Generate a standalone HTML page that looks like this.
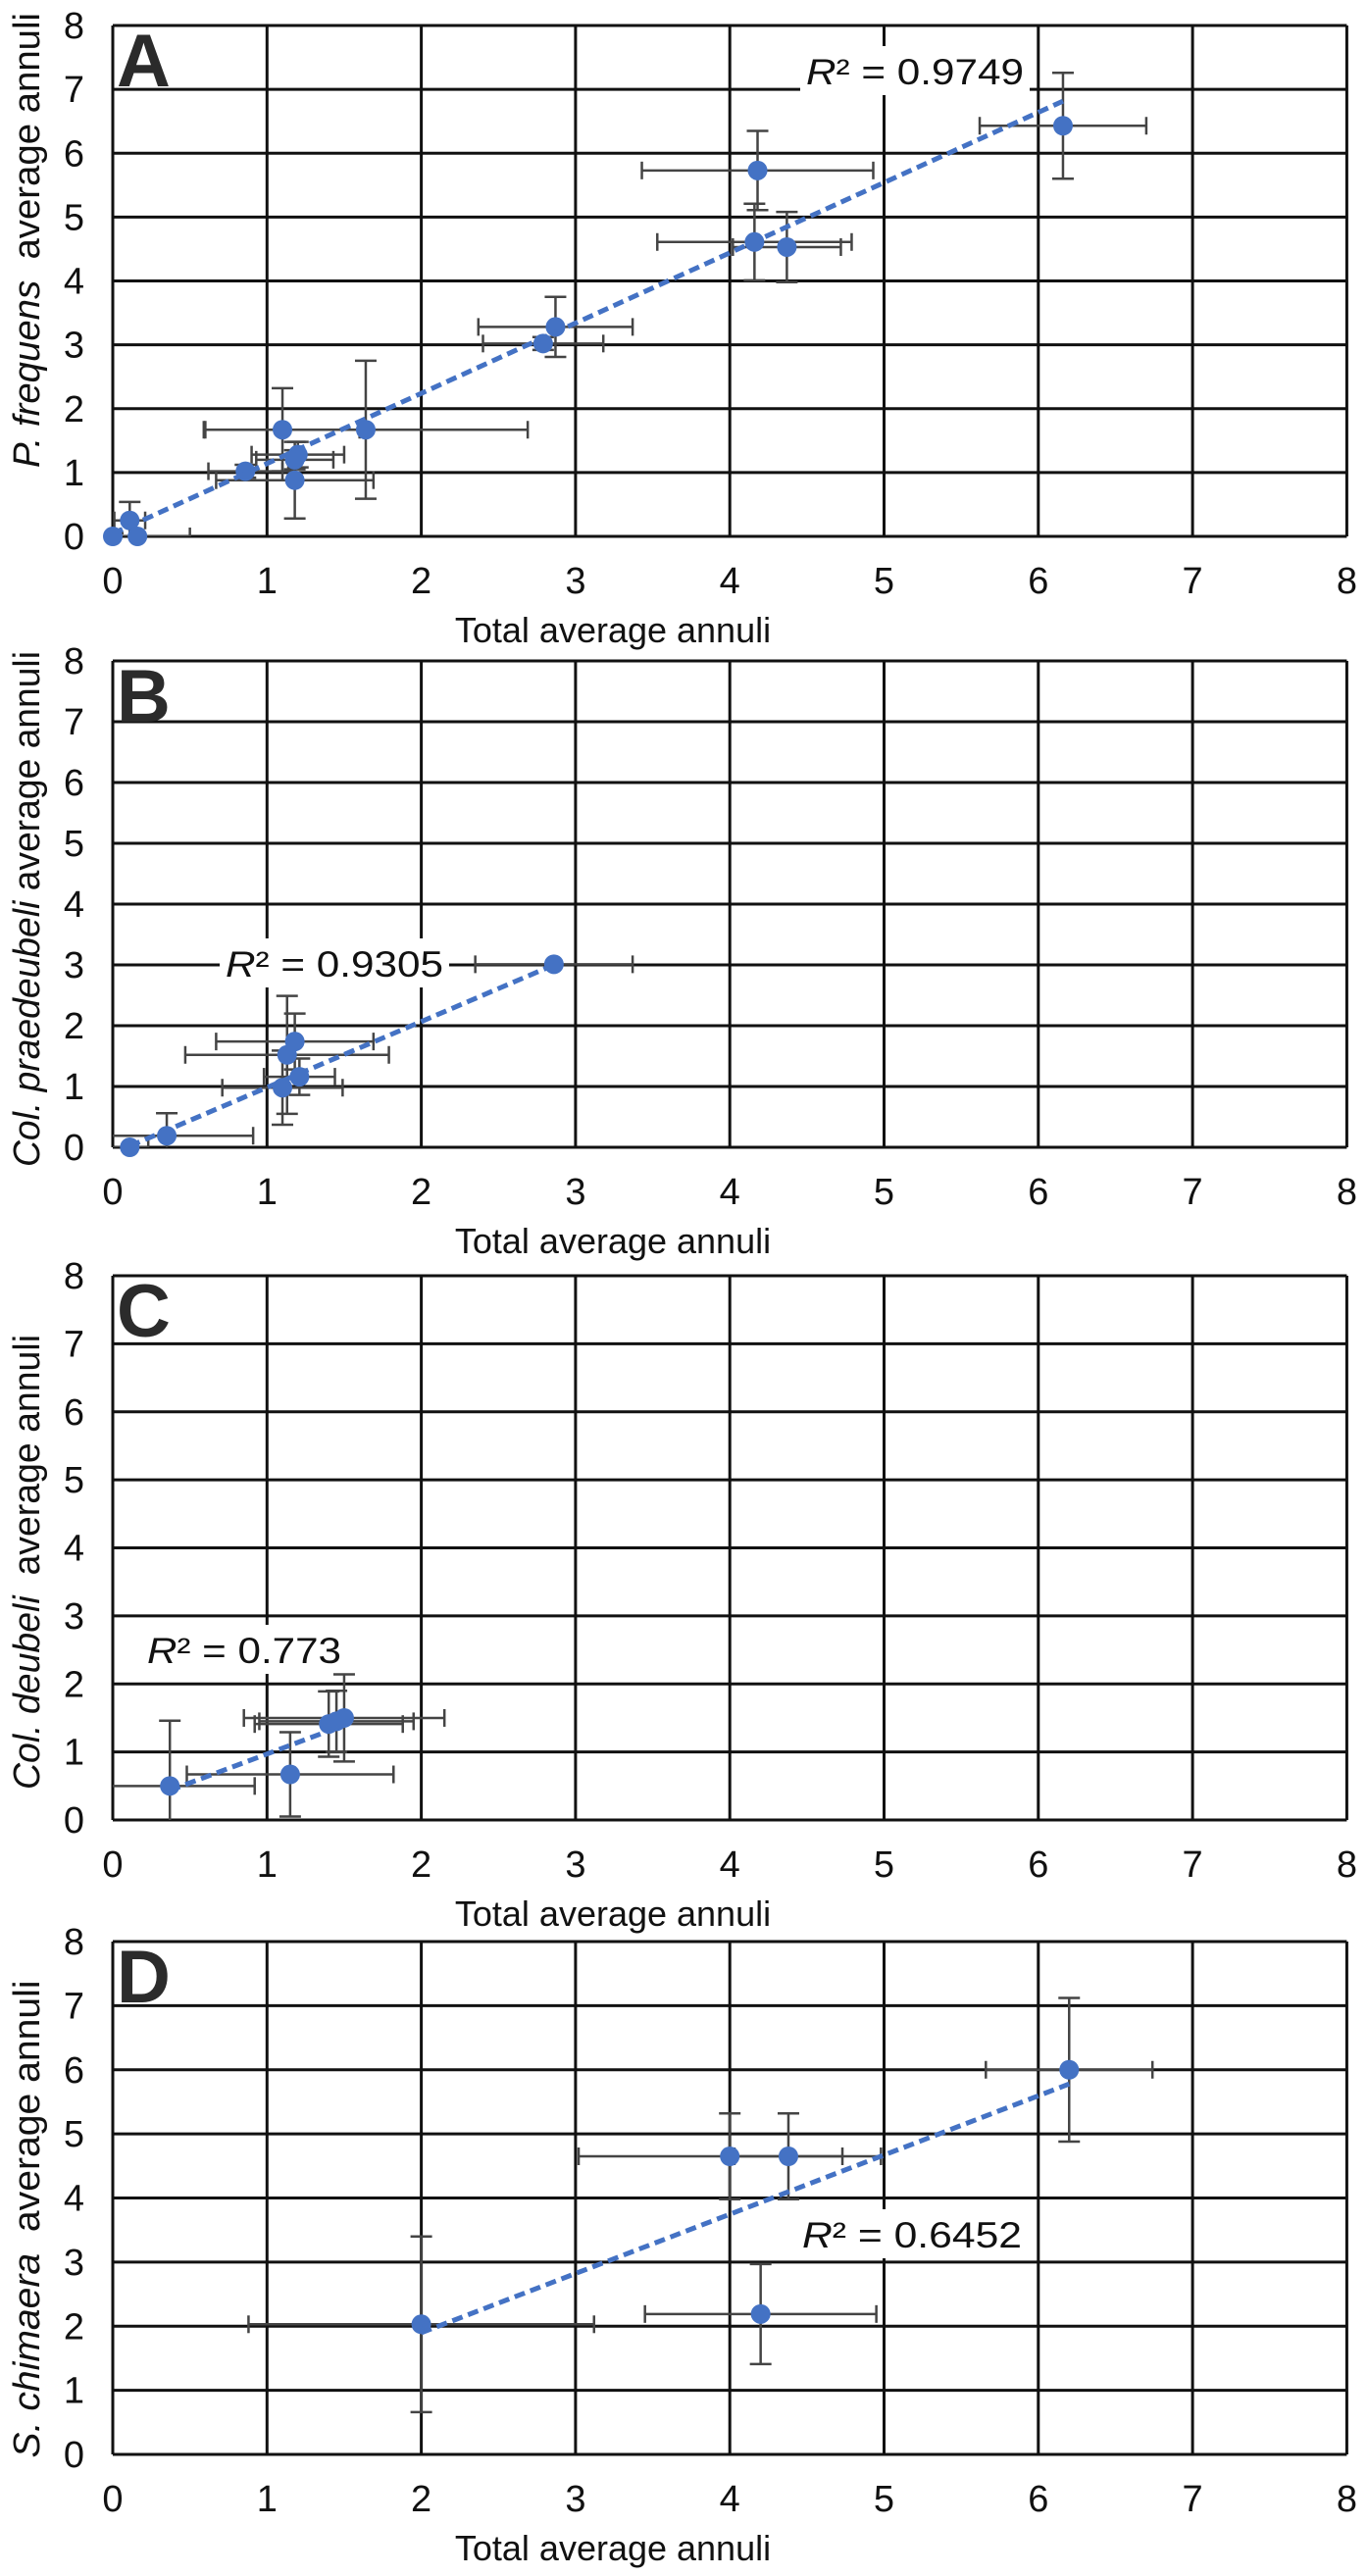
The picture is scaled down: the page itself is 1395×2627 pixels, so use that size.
<!DOCTYPE html>
<html><head><meta charset="utf-8"><style>
html,body{margin:0;padding:0;background:#fff;}
svg{display:block;font-family:"Liberation Sans",Arial,sans-serif;}
</style></head><body>
<svg id="fig" width="1395" height="2627" viewBox="0 0 1395 2627" xmlns="http://www.w3.org/2000/svg"></svg>
<script>
// ---- Panel A data ----
const aX = [0.0, 0.11, 0.16, 0.86, 1.10, 1.20, 1.18, 1.18, 1.64, 2.79, 2.87, 4.18, 4.16, 4.37, 6.16];
const aY = [0.0, 0.25, 0.0, 1.02, 1.67, 1.28, 1.20, 0.88, 1.67, 3.02, 3.28, 5.73, 4.61, 4.53, 6.43];
const aXerr = [0.05, 0.1, 0.34, 0.24, 0.5, 0.3, 0.25, 0.51, 1.05, 0.39, 0.5, 0.75, 0.63, 0.35, 0.54];
const aYerr = [0.05, 0.29, 0.0, 0.1, 0.65, 0.2, 0.15, 0.6, 1.08, 0.1, 0.47, 0.62, 0.6, 0.55, 0.83];
const aTrend = [1.10, 0.04]; // slope, intercept
const aR2 = "0.9749";
// ---- Panel B data ----
const bX = [0.11, 0.35, 1.10, 1.21, 1.13, 1.18, 2.86];
const bY = [0.0, 0.19, 0.98, 1.16, 1.52, 1.74, 3.01];
const bXerr = [0.12, 0.56, 0.39, 0.23, 0.66, 0.51, 0.51];
const bYerr = [0.0, 0.37, 0.61, 0.3, 0.97, 0.46, 0.0];
const bTrend = [1.084, -0.1];
const bR2 = "0.9305";
// ---- Panel C data ----
const cX = [0.37, 1.15, 1.40, 1.50, 1.45];
const cY = [0.50, 0.67, 1.41, 1.50, 1.45];
const cXerr = [0.55, 0.67, 0.48, 0.65, 0.5];
const cYerr = [0.96, 0.62, 0.48, 0.64, 0.45];
const cTrend = [0.85, 0.12];
const cR2 = "0.773";
// ---- Panel D data ----
const dX = [2.0, 4.0, 4.38, 4.2, 6.2];
const dY = [2.03, 4.65, 4.65, 2.19, 6.0];
const dXerr = [1.12, 0.98, 0.35, 0.75, 0.54];
const dYerr = [1.37, 0.67, 0.67, 0.78, 1.12];
const dTrend = [0.924, 0.05];
const dR2 = "0.6452";
const ticks = ["0","1","2","3","4","5","6","7","8"];

const NS = "http://www.w3.org/2000/svg";
const svg = document.getElementById('fig');
function mk(tag, attrs, parent){
  const e = document.createElementNS(NS, tag);
  for (const k in attrs) e.setAttribute(k, attrs[k]);
  (parent||svg).appendChild(e);
  return e;
}
const X0 = 115, XU = 157.3;
const panels = [
  {id:'a', letter:'A', top:26, bot:547, xs:aX, ys:aY, xe:aXerr, ye:aYerr, tr:aTrend, r2:aR2, r2x:822, r2y:73, r2w:222,
   sp:'P. frequens', rest:'\u00a0 average annuli', tcy:245, tlen:464},
  {id:'b', letter:'B', top:674, bot:1170, xs:bX, ys:bY, xe:bXerr, ye:bYerr, tr:bTrend, r2:bR2, r2x:230, r2y:983, r2w:222,
   sp:'Col. praedeubeli', rest:' average annuli', tcy:927, tlen:526},
  {id:'c', letter:'C', top:1301, bot:1856, xs:cX, ys:cY, xe:cXerr, ye:cYerr, tr:cTrend, r2:cR2, r2x:150, r2y:1683, r2w:198,
   sp:'Col. deubeli', rest:'\u00a0 average annuli', tcy:1593, tlen:464},
  {id:'d', letter:'D', top:1980, bot:2503, xs:dX, ys:dY, xe:dXerr, ye:dYerr, tr:dTrend, r2:dR2, r2x:818, r2y:2279, r2w:224,
   sp:'S. chimaera', rest:'\u00a0 average annuli', tcy:2263, tlen:487}
];
panels.forEach(p=>{
  const g = mk('g', {});
  
  
  const yu = (p.bot - p.top)/8;
  const sx = v => X0 + v*XU;
  const sy = v => p.bot - v*yu;
  const clipId = 'clip'+p.id;
  const cp = mk('clipPath', {id:clipId}, g);
  mk('rect', {x:X0, y:p.top, width:8*XU, height:p.bot-p.top}, cp);
  // grid
  const grid = mk('g', {stroke:'#111', 'stroke-width':3}, g);
  
  
  for (let i=0;i<=8;i++){
    mk('line', {x1:sx(i), x2:sx(i), y1:p.top, y2:p.bot}, grid);
    mk('line', {x1:X0, x2:sx(8), y1:sy(i), y2:sy(i)}, grid);
  }
  // tick labels
  ticks.forEach((t,i)=>{
    const tx = mk('text', {x:sx(i), y:p.bot+58, 'font-size':38, 'text-anchor':'middle', fill:'#111'}, g);
    tx.textContent = t;
    
    
    const ty = mk('text', {x:86, y:sy(i)+13, 'font-size':38, 'text-anchor':'end', fill:'#111'}, g);
    ty.textContent = t;
    
    
  });
  // x title
  const xt = mk('text', {x:625, y:p.bot+108, 'font-size':36, 'text-anchor':'middle', fill:'#111'}, g);
  xt.textContent = 'Total average annuli';
  
  
  // y title
  const yt = mk('text', {x:0, y:0, 'font-size':38, 'text-anchor':'middle', fill:'#111',
    transform:'translate(40,'+p.tcy+') rotate(-90)', textLength:p.tlen, lengthAdjust:'spacingAndGlyphs'}, g);
  
  
  const s1 = mk('tspan', {'font-style':'italic'}, yt); s1.textContent = p.sp;
  const s2 = mk('tspan', {}, yt); s2.textContent = p.rest;
  // panel letter
  const lt = mk('text', {x:119, y:p.top+62, 'font-size':76, 'font-weight':'bold', fill:'#2b2b2b'}, g);
  lt.textContent = p.letter;
  
  
  // R2 label
  const rb = mk('rect', {x:p.r2x-6, y:p.r2y-26, width:p.r2w+12, height:50, fill:'#fff'}, g);
  
  
  const rt = mk('text', {x:p.r2x, y:p.r2y+13, 'font-size':37, fill:'#111', textLength:p.r2w, lengthAdjust:'spacingAndGlyphs'}, g);
  
  
  const r1 = mk('tspan', {'font-style':'italic'}, rt); r1.textContent = 'R';
  const r2 = mk('tspan', {}, rt); r2.textContent = '\u00b2 = ' + p.r2;
  // error bars
  const eb = mk('g', {stroke:'#444', 'stroke-width':2.5, 'clip-path':'url(#'+clipId+')'}, g);
  
  
  p.xs.forEach((x,i)=>{
    const y = p.ys[i], dx = p.xe[i], dy = p.ye[i];
    if (dx>0){
      mk('line', {x1:sx(x-dx), x2:sx(x+dx), y1:sy(y), y2:sy(y)}, eb);
      mk('line', {x1:sx(x-dx), x2:sx(x-dx), y1:sy(y)-9, y2:sy(y)+9}, eb);
      mk('line', {x1:sx(x+dx), x2:sx(x+dx), y1:sy(y)-9, y2:sy(y)+9}, eb);
    }
    if (dy>0){
      mk('line', {x1:sx(x), x2:sx(x), y1:sy(y-dy), y2:sy(y+dy)}, eb);
      mk('line', {x1:sx(x)-11, x2:sx(x)+11, y1:sy(y-dy), y2:sy(y-dy)}, eb);
      mk('line', {x1:sx(x)-11, x2:sx(x)+11, y1:sy(y+dy), y2:sy(y+dy)}, eb);
    }
  });
  // points
  p.xs.forEach((x,i)=>{
    const c = mk('circle', {cx:sx(x), cy:sy(p.ys[i]), r:10, fill:'#4472C4'}, g);
    
    
  });
  // trendline
  const xmin = Math.min(...p.xs), xmax = Math.max(...p.xs);
  const tl = mk('line', {x1:sx(xmin), y1:sy(p.tr[0]*xmin+p.tr[1]), x2:sx(xmax), y2:sy(p.tr[0]*xmax+p.tr[1]),
    stroke:'#4472C4', 'stroke-width':5, 'stroke-dasharray':'11 6'}, g);
  
  
});
</script>
</body></html>
